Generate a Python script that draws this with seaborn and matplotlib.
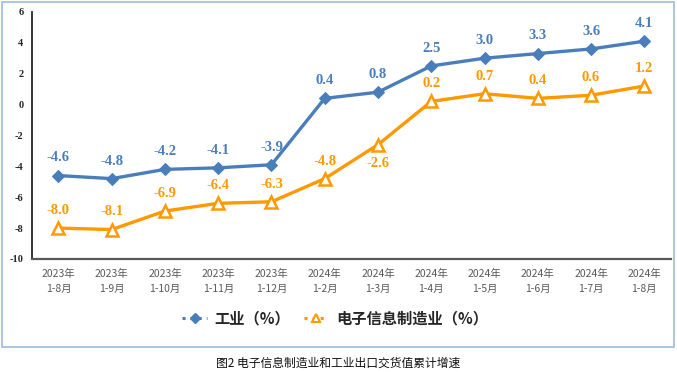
import numpy as np
import pandas as pd
import matplotlib
matplotlib.use("Agg")
import matplotlib.pyplot as plt
import seaborn as sns
from matplotlib.lines import Line2D
from matplotlib.patches import Rectangle

# Data
periods = ["2023年\n1-8月", "2023年\n1-9月", "2023年\n1-10月", "2023年\n1-11月", "2023年\n1-12月",
           "2024年\n1-2月", "2024年\n1-3月", "2024年\n1-4月", "2024年\n1-5月", "2024年\n1-6月",
           "2024年\n1-7月", "2024年\n1-8月"]
industry = [-4.6, -4.8, -4.2, -4.1, -3.9, 0.4, 0.8, 2.5, 3.0, 3.3, 3.6, 4.1]
electronics = [-8.0, -8.1, -6.9, -6.4, -6.3, -4.8, -2.6, 0.2, 0.7, 0.4, 0.6, 1.2]
yticks = [6, 4, 2, 0, -2, -4, -6, -8, -10]

blue = "#4A7EBB"
orange = "#FF9900"

sns.set_style("white")
plt.rcParams['font.family'] = ['Noto Sans CJK SC', 'DejaVu Sans']

df = pd.DataFrame({"x": np.arange(len(periods)), "industry": industry, "electronics": electronics})

fig = plt.figure(figsize=(6.77, 3.72), dpi=100)
ax = fig.add_axes([0.047, 0.304, 0.944, 0.664])

# outer light-blue frame
fig.patches.append(Rectangle((0.003, 0.067), 0.993, 0.927, transform=fig.transFigure,
                             fill=False, edgecolor="#9DB9DE", linewidth=1.2))

sns.lineplot(data=df, x="x", y="industry", ax=ax, color=blue, linewidth=2.4,
             marker="D", markersize=6, markeredgecolor=blue, markerfacecolor=blue)
sns.lineplot(data=df, x="x", y="electronics", ax=ax, color=orange, linewidth=2.4,
             marker="^", markersize=8, markeredgecolor=orange, markerfacecolor="white",
             markeredgewidth=1.8)

serif = ['Liberation Serif', 'DejaVu Serif']
for i, v in enumerate(industry):
    ax.annotate(f"{v:.1f}", (i, v), xytext=(0, 8), textcoords="offset points",
                ha="center", va="bottom", color=blue, fontsize=10.5, fontweight="bold", family=serif)
for i, v in enumerate(electronics):
    off = -9 if v == -2.6 else 8
    ax.annotate(f"{v:.1f}", (i, v), xytext=(0, off), textcoords="offset points",
                ha="center", va="top" if off < 0 else "bottom", color=orange,
                fontsize=10.5, fontweight="bold", family=serif)

ax.set_xlim(-0.5, len(periods) - 0.5)
ax.set_ylim(-10, 6)
ax.set_yticks(yticks)
ax.set_yticklabels([str(t) for t in yticks], fontsize=7.5, fontweight="bold", family=serif)
ax.set_xticks(range(len(periods)))
ax.set_xticklabels(periods, fontsize=7.5, color="#595959", linespacing=1.6)
ax.tick_params(axis="both", length=0, pad=6)
ax.tick_params(axis="x", pad=7)
ax.set_xlabel("")
ax.set_ylabel("")
for s in ["top", "right"]:
    ax.spines[s].set_visible(False)
ax.spines["left"].set_color("#222222")
ax.spines["left"].set_linewidth(1.3)
ax.spines["bottom"].set_color("#595959")
ax.spines["bottom"].set_linewidth(1.6)

handles = [
    Line2D([0], [0], color=blue, linestyle=":", linewidth=2.2, marker="D", markersize=5,
           markerfacecolor=blue, markeredgecolor=blue),
    Line2D([0], [0], color=orange, linestyle=":", linewidth=2.2, marker="^", markersize=6,
           markerfacecolor="white", markeredgecolor=orange, markeredgewidth=1.5),
]
fig.legend(handles, ["工业（%）", "电子信息制造业（%）"], loc="center", bbox_to_anchor=(0.495, 0.145),
           ncol=2, frameon=False, prop={"size": 11, "weight": "bold"}, handlelength=1.6,
           columnspacing=0.9, handletextpad=0.5)

fig.text(0.5, 0.024, "图2 电子信息制造业和工业出口交货值累计增速", ha="center", va="center",
         fontsize=8.5, color="#111111")

fig.savefig("out.png", dpi=100)
